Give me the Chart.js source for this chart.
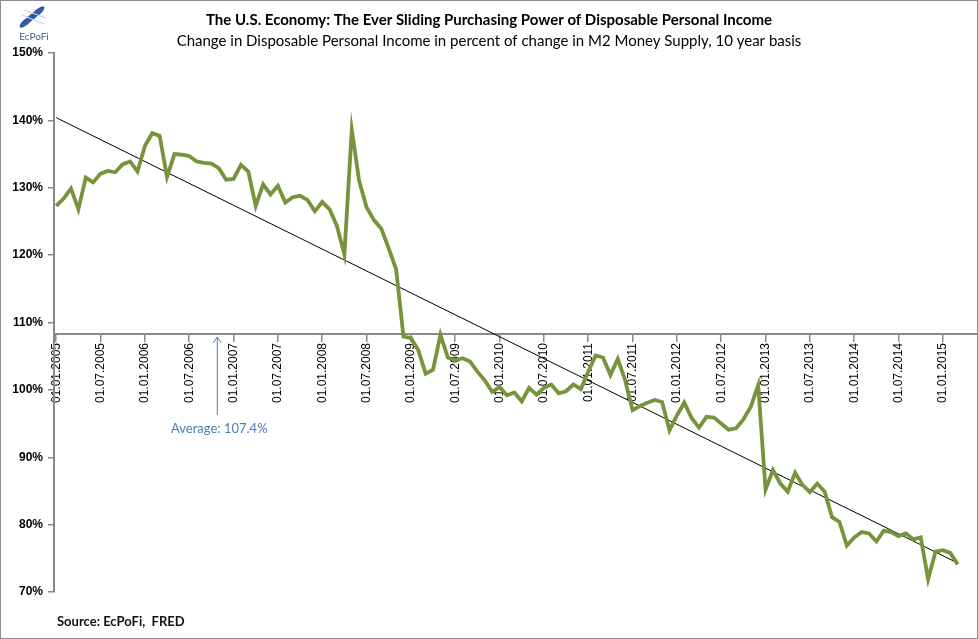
<!DOCTYPE html>
<html>
<head>
<meta charset="utf-8">
<script src="https://cdn.jsdelivr.net/npm/chart.js@4"></script>
<style>
html, body { margin: 0; padding: 0; background: #fff; }
canvas { display: block; }
</style>
</head>
<body>
<canvas id="chart" width="978" height="639"></canvas>
<script>
// monthly values, Jan 2005 - Mar 2015 (in %)
const values2005 = [127.3, 128.4, 129.9, 126.8, 131.5, 130.8, 132.1, 132.5, 132.3, 133.5, 133.9, 132.4];
const values2006 = [136.2, 138.1, 137.7, 131.6, 135.0, 134.9, 134.7, 133.9, 133.7, 133.6, 132.9, 131.2];
const values2007 = [131.3, 133.4, 132.4, 127.3, 130.5, 129.0, 130.3, 127.8, 128.6, 128.8, 128.2, 126.5];
const values2008 = [127.9, 126.8, 124.3, 120.1, 138.6, 131.0, 127.1, 125.2, 123.9, 121.0, 117.9, 107.9];
const values2009 = [107.7, 105.9, 102.4, 103.0, 108.2, 104.8, 104.4, 104.7, 104.2, 102.7, 101.4, 99.7];
const values2010 = [100.4, 99.2, 99.6, 98.3, 100.3, 99.3, 100.3, 100.8, 99.5, 99.8, 100.8, 100.1];
const values2011 = [102.7, 105.1, 104.8, 102.2, 104.6, 101.4, 97.0, 97.6, 98.1, 98.5, 98.2, 94.0];
const values2012 = [96.2, 98.1, 95.8, 94.4, 96.0, 95.9, 95.0, 94.1, 94.3, 95.6, 97.5, 100.7];
const values2013 = [85.2, 88.1, 86.1, 84.9, 87.7, 85.9, 84.8, 86.1, 84.9, 81.1, 80.4, 76.9];
const values2014 = [78.1, 78.9, 78.7, 77.5, 79.1, 78.9, 78.3, 78.7, 77.8, 78.1, 71.9, 76.0];
const values2015 = [76.2, 75.8, 74.1];

const tickLabels = ["01.01.2005", "01.07.2005", "01.01.2006", "01.07.2006", "01.01.2007",
  "01.07.2007", "01.01.2008", "01.07.2008", "01.01.2009", "01.07.2009", "01.01.2010",
  "01.07.2010", "01.01.2011", "01.07.2011", "01.01.2012", "01.07.2012", "01.01.2013",
  "01.07.2013", "01.01.2014", "01.07.2014", "01.01.2015"];

// linear trend, first and last month
const trendStart = 140.4;
const trendEnd = 74.3;

const averageValue = 107.4;
const axisCross = 108.3;   // where the date axis crosses the value axis

const titleText = "The U.S. Economy: The Ever Sliding Purchasing Power of Disposable Personal Income";
const subtitleText = "Change in Disposable Personal Income in percent of change in M2 Money Supply, 10 year basis";
const sourceText = "Source: EcPoFi,  FRED";

const values = [].concat(values2005, values2006, values2007, values2008, values2009,
  values2010, values2011, values2012, values2013, values2014, values2015);
const lastIndex = values.length - 1;

const decorations = {
  id: "decorations",
  afterDraw(chart) {
    const ctx = chart.ctx;
    const xs = chart.scales.x, ys = chart.scales.y;
    ctx.save();

    // titles
    ctx.fillStyle = "#000";
    ctx.textAlign = "center";
    ctx.textBaseline = "middle";
    ctx.font = "bold 15px Lato";
    ctx.fillText(titleText, 489, 20);
    ctx.font = "15px Lato";
    ctx.fillText(subtitleText, 489, 41);

    // average arrow
    const ax = xs.getPixelForValue(21.8);
    const top = ys.getPixelForValue(axisCross) + 3;
    const bottom = ys.getPixelForValue(96.3);
    ctx.strokeStyle = "#4a7ebb";
    ctx.lineWidth = 1;
    ctx.beginPath();
    ctx.moveTo(ax, bottom);
    ctx.lineTo(ax, top);
    ctx.moveTo(ax - 4, top + 6);
    ctx.lineTo(ax, top);
    ctx.lineTo(ax + 4, top + 6);
    ctx.stroke();
    ctx.fillStyle = "#4a7ebb";
    ctx.font = "13px Lato";
    ctx.fillText("Average: " + averageValue.toFixed(1) + "%", ax + 2, bottom + 14);

    // source
    ctx.fillStyle = "#111";
    ctx.textAlign = "left";
    ctx.font = "bold 13px Lato";
    ctx.fillText(sourceText, 57, 622);

    // logo
    ctx.fillStyle = "#2f5aa8";
    for (let i = 0; i < 3; i++) {
      ctx.save();
      ctx.translate(26 + i * 6, 22 - i * 5);
      ctx.rotate(-0.7);
      ctx.beginPath();
      ctx.ellipse(0, 0, 8, 3, 0, 0, Math.PI * 2);
      ctx.fill();
      ctx.restore();
    }
    ctx.strokeStyle = "#c8d2e4";
    ctx.lineWidth = 1.2;
    ctx.beginPath();
    ctx.moveTo(22, 15); ctx.lineTo(44, 24);
    ctx.moveTo(24, 10); ctx.lineTo(46, 18);
    ctx.stroke();
    ctx.fillStyle = "#3d5e8e";
    ctx.textAlign = "center";
    ctx.font = "10px Lato";
    ctx.fillText("EcPoFi", 34, 37);

    // frame
    ctx.strokeStyle = "#8c8c8c";
    ctx.lineWidth = 1;
    ctx.strokeRect(0.5, 0.5, 977, 638);
    ctx.restore();
  }
};

new Chart(document.getElementById("chart"), {
  type: "line",
  data: {
    datasets: [
      {
        label: "DPI / M2",
        data: values.map((v, i) => ({ x: i, y: v })),
        borderColor: "#77933c",
        borderWidth: 3.8,
        pointRadius: 0,
        tension: 0,
      },
      {
        label: "Trend",
        data: [{ x: 0, y: trendStart }, { x: lastIndex, y: trendEnd }],
        borderColor: "#000",
        borderWidth: 1,
        pointRadius: 0,
      },
    ],
  },
  options: {
    responsive: false,
    animation: false,
    events: [],
    layout: { padding: { top: 53, bottom: 47, left: 0, right: 0 } },
    plugins: {
      legend: { display: false },
      tooltip: { enabled: false },
    },
    scales: {
      x: {
        type: "linear",
        position: { y: axisCross },
        min: -0.3,
        max: 124.75,
        afterBuildTicks: (scale) => {
          scale.ticks = tickLabels.map((t, i) => ({ value: i * 6 }));
        },
        ticks: {
          autoSkip: false,
          minRotation: 90,
          maxRotation: 90,
          padding: 2,
          color: "#000",
          font: { family: "Liberation Sans", size: 12 },
          callback: (v, i) => tickLabels[i],
        },
        grid: { drawOnChartArea: false, tickLength: 7, color: "#8a8a8a", lineWidth: 1.5 },
        border: { color: "#8a8a8a", width: 2 },
      },
      y: {
        min: 70,
        max: 150,
        afterFit: (scale) => { scale.width = 54; },
        ticks: {
          stepSize: 10,
          padding: 5,
          color: "#000",
          font: { family: "Liberation Sans", size: 12, weight: "bold" },
          callback: (v) => v + "%",
        },
        grid: { drawOnChartArea: false, tickLength: 6, color: "#8a8a8a", lineWidth: 1.5 },
        border: { color: "#8a8a8a", width: 2 },
      },
    },
  },
  plugins: [decorations],
});
</script>
</body>
</html>
